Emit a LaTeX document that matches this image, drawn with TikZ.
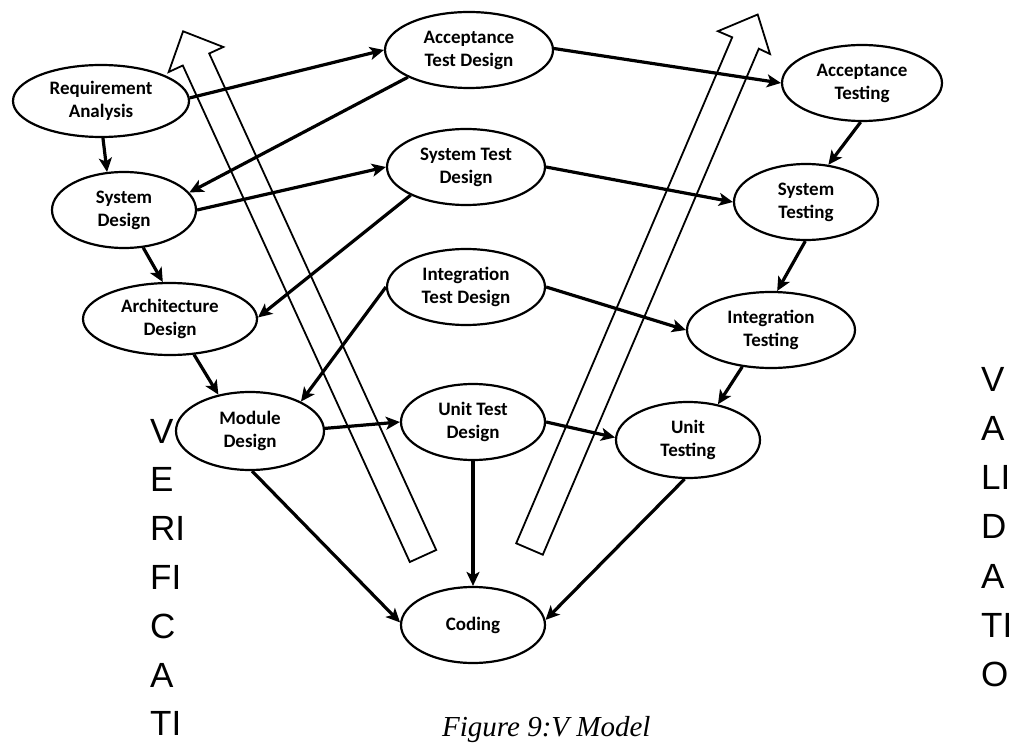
\documentclass[tikz,border=0pt]{standalone}
\usepackage{fontspec}
\setmainfont{Liberation Serif}
\newfontfamily\carl{Carlito}
\newfontfamily\lsans{Liberation Sans}
\usetikzlibrary{shapes.geometric,arrows.meta}
\begin{document}
\begin{tikzpicture}[x=1pt,y=-1pt,
  vn/.style={ellipse,draw,line width=2.2pt,inner sep=0pt,align=center,font=\carl\bfseries\fontsize{19}{23}\selectfont},
  conn/.style={line width=3.2pt,-{Stealth[length=14pt,width=13pt,inset=3.5pt]}},
  bigarrow/.style={draw,line width=1.8pt,line join=miter},
  side/.style={anchor=base west,inner sep=0pt,font=\lsans\fontsize{35}{42}\selectfont}]
\useasboundingbox[fill=white] (0,0) rectangle (1014,743);
% ellipses
\node[vn,minimum width=176pt,minimum height=72pt] (ra)  at (101,101) {Requirement\\Analysis};
\node[vn,minimum width=168pt,minimum height=76pt] (atd) at (469,50)  {Acceptance\\Test Design};
\node[vn,minimum width=160pt,minimum height=76pt] (at)  at (862,83)  {Acceptance\\Testing};
\node[vn,minimum width=144pt,minimum height=76pt] (sd)  at (124,210) {System\\Design};
\node[vn,minimum width=158pt,minimum height=76pt] (std) at (466,167) {System Test\\Design};
\node[vn,minimum width=144pt,minimum height=76pt] (st)  at (806,202) {System\\Testing};
\node[vn,minimum width=174pt,minimum height=72pt] (ad)  at (170,319) {Architecture\\Design};
\node[vn,minimum width=158pt,minimum height=76pt] (itd) at (466,287) {Integration\\Test Design};
\node[vn,minimum width=168pt,minimum height=76pt] (it)  at (771,330) {Integration\\Testing};
\node[vn,minimum width=148pt,minimum height=78pt] (md)  at (250,431) {Module\\Design};
\node[vn,minimum width=144pt,minimum height=76pt] (utd) at (473,422) {Unit Test\\Design};
\node[vn,minimum width=144pt,minimum height=76pt] (ut)  at (688,440) {Unit\\Testing};
\node[vn,minimum width=144pt,minimum height=76pt] (cod) at (473,625) {Coding};
% connectors
\draw[conn] (ra.2) -- (atd.180);
\draw[conn] (atd.204) -- (sd.15);
\draw[conn] (ra.-87) -- (sd.114);
\draw[conn] (sd.0) -- (std.180);
\draw[conn] (std.207) -- (ad.1);
\draw[conn] (sd.-63) -- (ad.101);
\draw[conn] (ad.-56) -- (md.131);
\draw[conn] (itd.180) -- (md.30);
\draw[conn] (md.2) -- (utd.180);
\draw[conn] (utd.0) -- (ut.178);
\draw[conn] (utd.-90) -- (cod.90);
\draw[conn] (md.-87) -- (cod.178);
\draw[conn] (ut.-95) -- (cod.4);
\draw[conn] (atd.1) -- (at.180);
\draw[conn] (std.0) -- (st.180);
\draw[conn] (itd.0) -- (it.180);
\draw[conn] (at.-92) -- (st.59);
\draw[conn] (st.-91) -- (it.81);
\draw[conn] (it.-128) -- (ut.50);
% hollow arrows
\path[bigarrow] (183.1,31.3) -- (223.3,47.0) -- (209.2,53.5) -- (436.2,550) -- (409.8,562) -- (182.8,65.5) -- (168.7,72) -- cycle;
\path[bigarrow] (757.7,14.5) -- (770,54) -- (758.8,48.7) -- (542.8,554.7) -- (516.2,543.3) -- (732.2,37.3) -- (717.9,31.2) -- cycle;
% side texts
\foreach \t [count=\i] in {V,E,RI,FI,C,A,TI}
  \node[side] (ver\i) at (150,{443+48.8*(\i-1)}) {\t};
\foreach \t [count=\i] in {V,A,LI,D,A,TI,O}
  \node[side] (val\i) at (981,{391+49.3*(\i-1)}) {\t};
% caption
\node[anchor=base west,inner sep=0pt,font=\itshape\fontsize{29}{34}\selectfont] (cap) at (442,736) {Figure 9:V Model};
\end{tikzpicture}
\end{document}
